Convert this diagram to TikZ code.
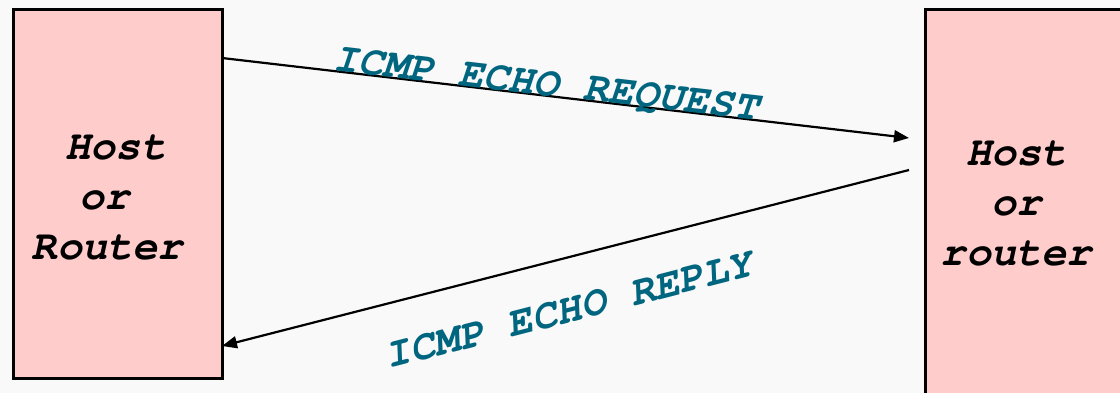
\documentclass[tikz,border=0pt]{standalone}
\usepackage{fontspec}
\setmonofont{TeX Gyre Cursor}
\definecolor{hostpink}{RGB}{255,204,204}
\definecolor{icmpteal}{RGB}{0,102,128}
\definecolor{slidebg}{RGB}{249,249,249}
\usetikzlibrary{arrows.meta,calc}

\begin{document}
\begin{tikzpicture}[x=1pt,y=-1pt,
    hostbox/.style={draw,line width=3pt,fill=hostpink,outer sep=0pt,
        minimum width=209pt},
    hosttext/.style={font=\fontsize{42}{50}\selectfont\ttfamily\bfseries\itshape,
        align=center,inner sep=0pt},
    msg/.style={line width=2.2pt,-{Triangle[length=15pt,width=12pt]}},
    msgtext/.style={text=icmpteal,inner sep=0pt,anchor=base,
        font=\fontsize{42}{50}\selectfont\ttfamily\bfseries\itshape}]
  \path[fill=slidebg] (0,0) rectangle (1120,393);
  \useasboundingbox (0,0) rectangle (1120,393);

  %% Left end system
  \node[hostbox,minimum height=368pt] (hostA) at (117.5,194) {};
  \node[hosttext] (hostAtext) at (116,197) {Host\\or\kern23pt\\Router\kern17pt};

  %% Right end system
  \node[hostbox,minimum height=388pt] (hostB) at (1029.5,204) {};
  \node[hosttext] (hostBtext) at (1016.5,203) {Host\\or\\router};

  %% Echo request / reply
  \coordinate (reqFrom) at ($(hostA.north east)+(0,48)$);
  \coordinate (reqTo) at (909,138);
  \coordinate (repFrom) at (909,170);
  \coordinate (repTo) at ($(hostA.north east)+(0,336)$);

  \draw[msg] (reqFrom) -- (reqTo)
        node[msgtext,sloped,pos=0.47] (reqLabel) {ICMP ECHO REQUEST};
  \draw[msg] (repFrom) -- (repTo);
  \node[msgtext,rotate=14.4] (repLabel) at (572,322) {ICMP ECHO REPLY};
\end{tikzpicture}
\end{document}
